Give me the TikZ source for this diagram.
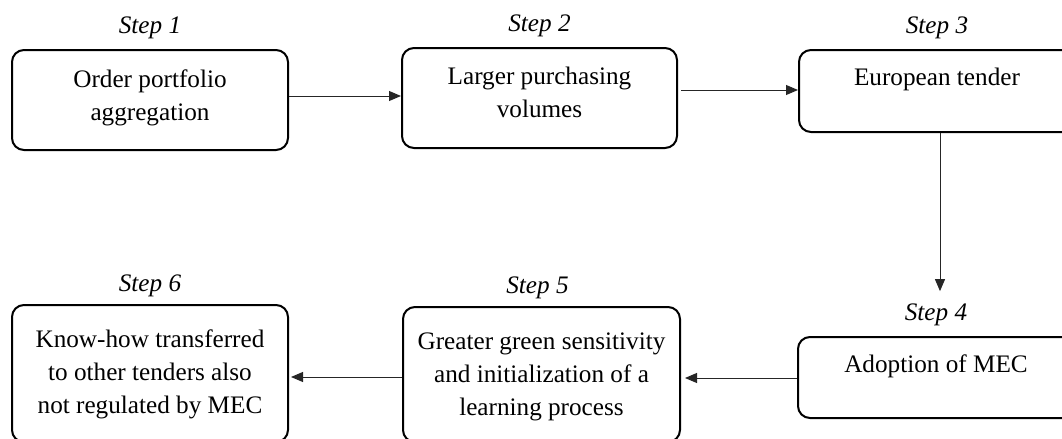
\documentclass[tikz,border=0pt]{standalone}
\usepackage{fontspec}
\setmainfont{Liberation Serif}
\usetikzlibrary{arrows.meta,positioning}
\begin{document}
\begin{tikzpicture}[x=0.5pt, y=-0.5pt,
    box/.style={draw, line width=1pt, rounded corners=6pt, minimum width=138pt},
    boxtext/.style={font=\fontsize{12.6}{16.5}\selectfont, align=center, inner sep=0pt},
    steplabel/.style={font=\fontsize{12.6}{16.5}\selectfont\itshape, inner sep=0pt},
    flow/.style={-{Triangle[length=6pt,width=5pt]}, line width=0.5pt, black!85}]

    \clip (0,0) rectangle (1062,439);

    % Boxes
    \node[box, minimum height=50pt] (b1) at (150,100) {};
    \node[box, minimum height=50pt, minimum width=137.5pt] (b2) at (539.5,98) {};
    \node[box, minimum height=41pt] (b3) at (937,91) {};
    \node[box, minimum height=40.5pt] (b4) at (936,377.5) {};
    \node[box, minimum height=67.5pt, minimum width=138.5pt] (b5) at (541.5,374.5) {};
    \node[box, minimum height=68.5pt] (b6) at (150,373.5) {};

    % Box texts
    \node[boxtext, below=10pt of b1.north] (t1) {Order portfolio\\aggregation};
    \node[boxtext, below=9.75pt of b2.north] (t2) {Larger purchasing\\volumes};
    \node[boxtext, below=9.5pt of b3.north] (t3) {European tender};
    \node[boxtext, below=9pt of b4.north] (t4) {Adoption of MEC};
    \node[boxtext, below=13pt of b5.north] (t5) {Greater green sensitivity\\and initialization of a\\learning process};
    \node[boxtext, below=12.5pt of b6.north] (t6) {Know-how transferred\\to other tenders also\\not regulated by MEC};

    % Step labels
    \node[steplabel, above=5pt of b1.north] (s1) {Step 1};
    \node[steplabel, above=5pt of b2.north] (s2) {Step 2};
    \node[steplabel, above=5pt of b3.north] (s3) {Step 3};
    \node[steplabel, above=5pt of b4.north] (s4) {Step 4};
    \node[steplabel, above=3.3pt of b5.north, xshift=-2pt] (s5) {Step 5};
    \node[steplabel, above=3.3pt of b6.north] (s6) {Step 6};

    % Flow
    \draw[flow] (b1.east |- 0,96) -- (b2.west |- 0,96);
    \draw[flow, shorten <=1.5pt] (b2.east |- 0,90) -- (b3.west |- 0,90);
    \draw[flow, shorten >=6pt] (b3.south -| 940,0) -- (s4.north -| 940,0);
    \draw[flow, shorten >=2pt] (b4.west |- 0,378) -- (b5.east |- 0,378);
    \draw[flow, shorten >=1pt] (b5.west |- 0,377) -- (b6.east |- 0,377);

\end{tikzpicture}
\end{document}
